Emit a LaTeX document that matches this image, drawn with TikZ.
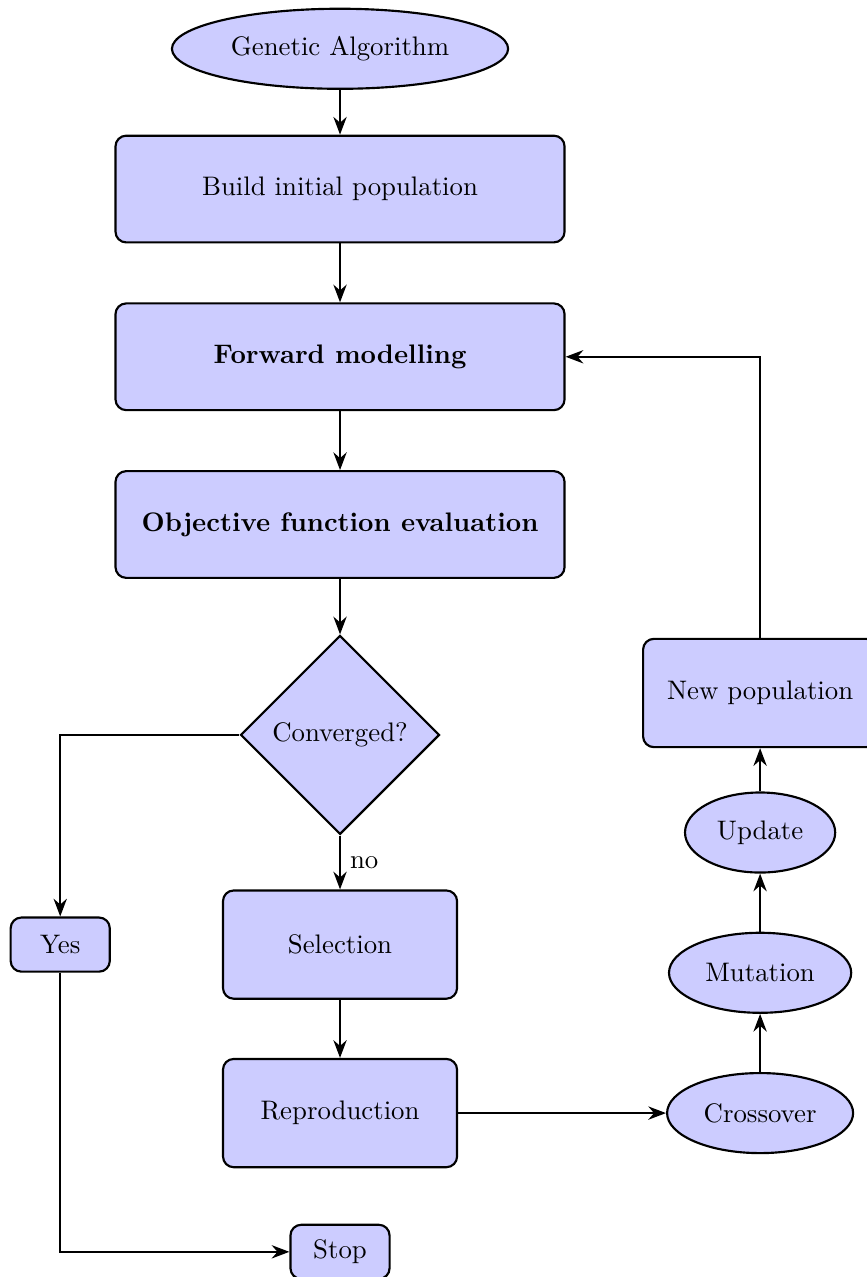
\documentclass[tikz,border=0pt]{standalone}
\usetikzlibrary{shapes.geometric,arrows.meta}

\begin{document}
\begin{tikzpicture}[>=Stealth, thick,
  block/.style={rectangle, draw, fill=blue!20, rounded corners, align=center},
  bigblock/.style={block, minimum width=5.89cm, minimum height=1.40cm},
  smallblock/.style={block, minimum width=3.07cm, minimum height=1.42cm},
  tinyblock/.style={block, minimum width=1.30cm, minimum height=0.71cm},
  cloud/.style={ellipse, draw, fill=blue!20, minimum height=1.05cm, inner sep=0pt},
  decision/.style={diamond, draw, fill=blue!20, minimum size=2.61cm, inner sep=0pt}]
  \useasboundingbox (0,0) rectangle (11.36,16.75);

  % main column
  \node[cloud, minimum width=4.41cm] (ga) at (4.46,16.11) {Genetic Algorithm};
  \node[bigblock] (init) at (4.46,14.27) {Build initial population};
  \node[bigblock] (forward) at (4.46,12.07) {\textbf{Forward modelling}};
  \node[bigblock] (objective) at (4.46,9.87) {\textbf{Objective function evaluation}};
  \node[decision] (conv) at (4.46,7.11) {Converged?};
  \node[smallblock] (select) at (4.46,4.36) {Selection};
  \node[smallblock] (repro) at (4.46,2.15) {Reproduction};
  \node[tinyblock] (stop) at (4.46,0.33) {Stop};

  % left branch
  \node[tinyblock] (yes) at (0.79,4.36) {Yes};

  % right loop
  \node[cloud, minimum width=2.44cm] (cross) at (9.97,2.15) {Crossover};
  \node[cloud, minimum width=2.39cm] (mut) at (9.97,3.99) {Mutation};
  \node[cloud, minimum width=1.97cm] (upd) at (9.97,5.83) {Update};
  \node[smallblock] (newpop) at (9.97,7.66) {New population};

  %arrows
  \draw[->] (ga) -- (init);
  \draw[->] (init) -- (forward);
  \draw[->] (forward) -- (objective);
  \draw[->] (objective) -- (conv);
  \draw[->] (conv) -- node[right] {no} (select);
  \draw[->] (conv.west) -| (yes.north);
  \draw[->] (yes.south) |- (stop.west);
  \draw[->] (select) -- (repro);
  \draw[->] (repro) -- (cross);
  \draw[->] (cross) -- (mut);
  \draw[->] (mut) -- (upd);
  \draw[->] (upd) -- (newpop);
  \draw[->] (newpop.north) |- (forward.east);

\end{tikzpicture}
\end{document}
